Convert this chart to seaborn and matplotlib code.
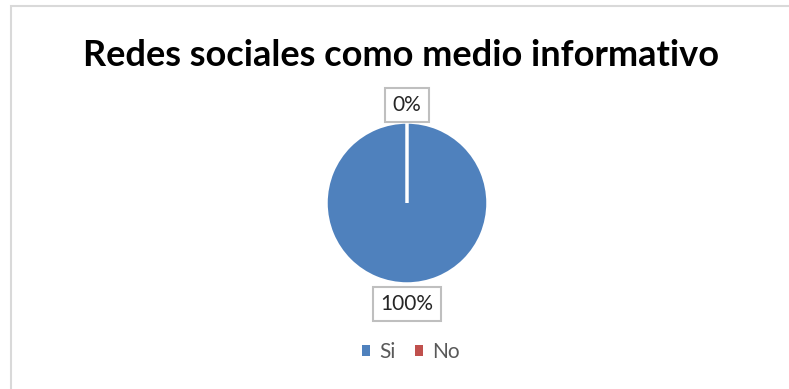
import matplotlib
matplotlib.use("Agg")
import matplotlib.pyplot as plt
import seaborn as sns
import numpy as np
from matplotlib.patches import Rectangle

categories = ["Si", "No"]
values = [100, 0]
pct_labels = ["100%", "0%"]
colors = ["#4F81BD", "#C0504D"]
title = "Redes sociales como medio informativo"

sns.set_theme(style="white")
plt.rcParams['font.family'] = ['Lato', 'DejaVu Sans']

W, H = 789, 389
fig = plt.figure(figsize=(W / 100, H / 100), dpi=100)
ax = fig.add_axes([0, 0, 1, 1])
ax.set_xlim(0, W)
ax.set_ylim(0, H)
ax.set_aspect('equal')
ax.axis('off')

# chart border
ax.add_patch(Rectangle((11, -5), W + 10, H - 6 + 5, fill=False,
                       edgecolor="#D9D9D9", linewidth=1.5))

cx, cy, r = 407, 186, 81
wedges, _ = ax.pie(values, colors=colors, startangle=90, counterclock=False,
                   center=(cx, cy), radius=r, frame=True,
                   wedgeprops=dict(edgecolor="white", linewidth=2.5))
ax.set_xlim(0, W)
ax.set_ylim(0, H)
ax.axis('off')

# data labels
label_pos = {"Si": (cx, cy - r - 20), "No": (cx, cy + r + 17)}
for cat, lab in zip(categories, pct_labels):
    x, y = label_pos[cat]
    ax.text(x, y, lab, ha='center', va='center', fontsize=15, color="#262626",
            bbox=dict(boxstyle="square,pad=0.35", facecolor="white",
                      edgecolor="#BFBFBF", linewidth=1.5))

ax.text(401, 334, title, ha='center', va='center', fontsize=26,
        fontweight='bold', color="black")

handles = [Rectangle((0, 0), 1, 1, facecolor=c, edgecolor='none') for c in colors]
leg = ax.legend(handles, categories, loc='center', bbox_to_anchor=((cx + 4) / W, 37 / H),
                ncol=2, frameon=False, fontsize=15, handlelength=0.4,
                handleheight=0.4, handletextpad=0.45, columnspacing=0.9)
for t in leg.get_texts():
    t.set_color("#595959")

fig.savefig("out.png", dpi=100)
